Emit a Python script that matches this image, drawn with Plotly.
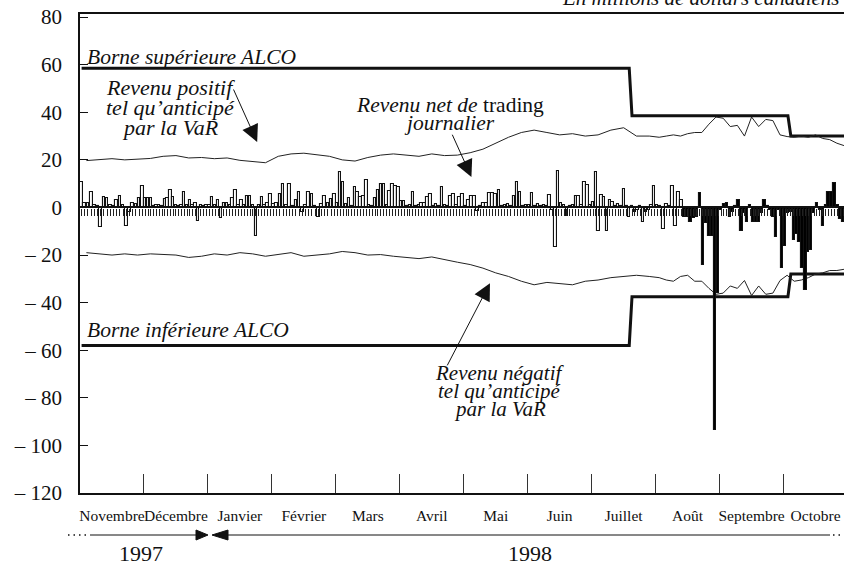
import plotly.graph_objects as go

# ---------------------------------------------------------------------------
# Data (millions de dollars canadiens)
# ---------------------------------------------------------------------------
months = ["Novembre", "Décembre", "Janvier", "Février", "Mars", "Avril",
          "Mai", "Juin", "Juillet", "Août", "Septembre", "Octobre"]

# Revenu net de trading journalier, un chiffre par jour ouvrable
rev_nov = [10.5, 2, 2, 6.3, 1, 0.5, -8.4, 4.2, 4, 1, 0.5, 3, 5, 1, -8, -2, 2, 1.5, 4, 9]
rev_dec = [4, 4, 4, 0.5, 1, 1, 0.5, 3.5, 4, 7.3, 4.5, 1, 0.5, 1, 6.3, 1, 3, 1, 2, -5.6, 1, 0.5, 1]
rev_jan = [1, 4.5, 1, 3, -4.5, 2, 2, 1, 4, 7.3, 1, 3, 1, 5, 5, 1, -12, 1, 4.5, 1, 2, 5.6]
rev_feb = [1.5, 2, 5.6, 9.8, 1, 9.8, 0.5, 3, 6.3, -2, 1, 6.3, 5.6, 0.7, -4, 1.4, 5, 2, 3.5, 5.6]
rev_mar = [2, 14.7, 10.5, 1.4, 4, 0.5, 8.7, 6.3, 4.5, 5, 11.5, 1, 0.5, 4, 7.3, 9.8, 9.8, 1, 7, 9.8, 9.1, 8.4]
rev_apr = [2.8, 2.8, 0.5, 1, 6.3, 0.5, 1, 2, 2, 4.2, 5.6, 0.5, 1.4, 0.5, 8.7, 1, 0.5, 5, 5.6, 1, 4.2, 5.6]
rev_may = [0.5, 3, 4.8, 4.8, -1.5, 0.5, 1.7, 1.7, 6.2, 6, 5.6, 7.3, 0.5, 1, 1.4, 0.5, 4.8, 10.8, 6.6, 0.5, 1]
rev_jun = [1, 6, 0.5, 1.4, 0.5, 1, 0.5, 5.2, -1, -16.5, 15.5, 2, 1, -3.6, 0.5, 1, 4.8, 4.8, 1, 10.8, 9.4, 1]
rev_jul = [2.4, 15, -10, 5.2, 4.2, -10, 3, 2.4, 0.5, 1.4, 0.5, 7.6, 0.5, -4, 0.5, -2, -1, 0.5, -6, -2, -1, 1, 9]
rev_aug = [1, 0.5, -9, 1.5, 0.5, 9, -8, 6.6, 3, -4, -4, -6, -4.6, -4, 5.9, -24, -6.7, -12, -12, -93.5, -36]
rev_sep = [-1, 1.5, 1.7, -4, -2, 0.5, 3, -10, -2.5, -6, 1, -6, -6, -6, -2.5, 3, 0.5, -1, -4, -12.6, -1, -25.6]
rev_oct = [-16, -2.5, -2, -13.7, -11, -14.4, -25.6, -34.7, -18.6, -18, -2.5, 1.7, -1, -8, 1, 6.6, 6.6, 10.4, 1, -5, -6, -3]

revenue_by_month = [rev_nov, rev_dec, rev_jan, rev_feb, rev_mar, rev_apr,
                    rev_may, rev_jun, rev_jul, rev_aug, rev_sep, rev_oct]

# Revenu positif / négatif tel qu'anticipé par la VaR (relevés hebdomadaires)
var_pos_by_month = [
    [19.7, 20.2, 20.5, 20.0, 20.3],
    [20.6, 21.5, 21.8, 20.8, 21.0],
    [20.5, 20.8, 19.8, 19.2, 18.8],
    [21.5, 22.5, 22.8, 22.0, 21.5],
    [20.0, 19.5, 21.0, 22.0, 22.5],
    [22.0, 21.5, 22.5, 21.8, 22.0],
    [23.0, 24.5, 27.0, 29.5, 31.5],
    [32.5, 31.5, 30.5, 31.0, 30.0],
    [30.5, 32.5, 33.5, 30.0, 30.0],
    [29.5, 30.0, 30.5, 30.0, 31.0, 31.5, 31.5, 35.0, 38.0],
    [37.5, 34.0, 34.5, 30.0, 38.0, 34.0, 37.0, 36.5, 30.5],
    [29.8, 29.5, 30.0, 29.5, 30.5, 29.0, 28.5, 27.0, 26.0],
]
var_neg_by_month = [
    [-19.0, -19.5, -20.0, -19.5, -20.0],
    [-19.5, -19.8, -20.0, -21.0, -20.5],
    [-19.5, -20.0, -19.0, -19.5, -20.5],
    [-19.8, -19.0, -20.5, -20.0, -19.5],
    [-18.5, -19.0, -20.0, -19.8, -20.5],
    [-21.0, -21.5, -20.8, -22.0, -23.0],
    [-24.0, -25.5, -27.5, -29.0, -31.0],
    [-32.5, -31.5, -32.0, -32.5, -31.0],
    [-30.5, -29.5, -29.0, -28.5, -29.0],
    [-29.5, -30.5, -31.0, -29.0, -28.5, -31.0, -31.0, -34.0, -36.5],
    [-36.0, -33.0, -34.0, -30.7, -37.0, -33.0, -36.5, -36.0, -30.7],
    [-28.5, -31.0, -30.5, -29.5, -28.0, -27.5, -26.5, -26.5, -26.0],
]

# Bornes ALCO : niveaux successifs et premier jour ouvrable (mois, jour) d'effet
alco_upper_levels = [58.5, 38.5, 30.0]
alco_lower_levels = [-58.0, -37.5, -28.0]
alco_effective = [(0, 0), (8, 14), (11, 2)]

# Jour ouvrable à partir duquel les barres sont pleines
dark_from = (9, 9)

y_ticks = [-120, -100, -80, -60, -40, -20, 0, 20, 40, 60, 80]
y_range = [-120, 81.3]
x_range = [0, 11.945]
years = ["1997", "1998"]

# ---------------------------------------------------------------------------
# Helpers: each month occupies one unit on the x axis
# ---------------------------------------------------------------------------
def spread(by_month):
    xs, ys, keys = [], [], []
    for m, vals in enumerate(by_month):
        n = len(vals)
        for j, v in enumerate(vals):
            xs.append(m + (j + 0.5) / n)
            ys.append(v)
            keys.append((m, j))
    return xs, ys, keys

day_x, day_rev, day_keys = spread(revenue_by_month)
bar_w = [0.82 / len(revenue_by_month[m]) for (m, j) in day_keys]
bar_fill = ["black" if k >= dark_from else "white" for k in day_keys]

def level_on(key, levels):
    lvl = levels[0]
    for start, value in zip(alco_effective, levels):
        if key >= start:
            lvl = value
    return lvl

alco_up = [level_on(k, alco_upper_levels) for k in day_keys]
alco_dn = [level_on(k, alco_lower_levels) for k in day_keys]

vp_x, vp_y, _ = spread(var_pos_by_month)
vn_x, vn_y, _ = spread(var_neg_by_month)

FONT = "Liberation Serif"
BLACK = "#111111"

fig = go.Figure()

# Bornes ALCO
for ys in (alco_up, alco_dn):
    fig.add_trace(go.Scatter(x=day_x, y=ys, mode="lines",
                             line=dict(color=BLACK, width=3),
                             hoverinfo="skip", showlegend=False))

# VaR
for xs, ys in ((vp_x, vp_y), (vn_x, vn_y)):
    fig.add_trace(go.Scatter(x=xs, y=ys, mode="lines",
                             line=dict(color="#222222", width=1),
                             hoverinfo="skip", showlegend=False))

# Revenu net de trading journalier (barres sur l'axe des jours)
fig.add_trace(go.Bar(x=day_x, y=day_rev, width=bar_w, xaxis="x3",
                     marker=dict(color=bar_fill, line=dict(color=BLACK, width=1.1)),
                     hoverinfo="skip", showlegend=False))

zero_pos = (0 - y_range[0]) / (y_range[1] - y_range[0])

def ylabel(v):
    return "– " + str(abs(v)) if v < 0 else str(v)

fig.update_layout(
    width=844, height=565,
    margin=dict(l=80, r=0, t=14, b=72),
    plot_bgcolor="white", paper_bgcolor="white",
    font=dict(family=FONT, color=BLACK),
    bargap=0,
    xaxis=dict(
        range=x_range, showgrid=False, zeroline=False,
        showline=True, linecolor=BLACK, linewidth=1.5, mirror=True,
        tickmode="array", tickvals=[m + 0.5 for m in range(len(months))],
        ticktext=months, ticks="", tickangle=0, ticklabelstandoff=8,
        tickfont=dict(family=FONT, size=15.5, color=BLACK),
        minor=dict(tickmode="array", tickvals=list(range(1, len(months))),
                   ticks="inside", ticklen=19, tickwidth=1, tickcolor="#333333",
                   showgrid=False),
    ),
    xaxis3=dict(
        overlaying="x", matches="x", range=x_range, anchor="free",
        position=zero_pos, side="bottom",
        showgrid=False, zeroline=False,
        showline=True, linecolor=BLACK, linewidth=1.2,
        tickmode="array", tickvals=day_x, ticks="outside", ticklen=7,
        tickwidth=1, tickcolor="#222222", showticklabels=False,
    ),
    yaxis=dict(
        range=y_range, showgrid=False, zeroline=False,
        showline=True, linecolor=BLACK, linewidth=1.5,
        tickmode="array", tickvals=y_ticks,
        ticktext=[ylabel(v) for v in y_ticks],
        ticks="inside", ticklen=8, tickwidth=1, tickcolor=BLACK,
        ticklabelstandoff=12,
        tickfont=dict(family=FONT, size=21, color=BLACK),
    ),
)

# Libellés en italique dans le graphique
def label(text, x, y, anchor="center", size=21):
    fig.add_annotation(x=x, y=y, xref="x", yref="y", text=text, showarrow=False,
                       xanchor=anchor, yanchor="middle", borderpad=0,
                       font=dict(family=FONT, size=size, color=BLACK))

label("<i>Borne supérieure ALCO</i>", 0.1, 63.2, "left", size=21.5)
label("<i>Borne inférieure ALCO</i>", 0.1, -51.5, "left", size=21.5)
label("<i>Revenu positif</i>", 1.41, 50.4, size=22)
label("<i>tel qu’anticipé</i>", 1.41, 42.0, size=22)
label("<i>par la VaR</i>", 1.41, 33.6, size=22)
label("<i>Revenu net de</i> trading", 5.78, 43.2, size=21.5)
label("<i>journalier</i>", 5.78, 35.4, size=21.5)
label("<i>Revenu négatif</i>", 6.56, -69.6, size=21)
label("<i>tel qu’anticipé</i>", 6.56, -77.2, size=21)
label("<i>par la VaR</i>", 6.56, -84.8, size=21)

# Flèches de renvoi
for (hx, hy, tx, ty) in [(2.77, 27.5, 2.39, 50.2),
                         (6.12, 12.8, 5.81, 31.2),
                         (6.41, -31.8, 5.73, -67.0)]:
    fig.add_annotation(x=hx, y=hy, ax=tx, ay=ty, xref="x", yref="y",
                       axref="x", ayref="y", text="", showarrow=True,
                       arrowhead=2, arrowsize=3.4, arrowwidth=1,
                       arrowcolor=BLACK)

# Unité
fig.add_annotation(x=0.997, y=1.004, xref="paper", yref="paper",
                   text="<i>En millions de dollars canadiens</i>",
                   showarrow=False, xanchor="right", yanchor="bottom",
                   font=dict(family=FONT, size=21, color=BLACK))

# Frise des années sous l'axe
def px_x(p):
    return (p - 80) / 764.0

def px_y(p):
    return (493 - p) / 479.0

yl = px_y(535)
h = 5 / 479.0
shapes = [
    dict(type="line", xref="paper", yref="paper", x0=px_x(90), x1=px_x(197),
         y0=yl, y1=yl, line=dict(color=BLACK, width=1)),
    dict(type="line", xref="paper", yref="paper", x0=px_x(227), x1=px_x(830),
         y0=yl, y1=yl, line=dict(color=BLACK, width=1)),
    dict(type="path", xref="paper", yref="paper", fillcolor=BLACK,
         line=dict(color=BLACK, width=1),
         path=f"M {px_x(196)},{yl + h} L {px_x(208)},{yl} L {px_x(196)},{yl - h} Z"),
    dict(type="path", xref="paper", yref="paper", fillcolor=BLACK,
         line=dict(color=BLACK, width=1),
         path=f"M {px_x(228)},{yl + h} L {px_x(212)},{yl} L {px_x(228)},{yl - h} Z"),
    dict(type="line", xref="paper", yref="paper", x0=px_x(68), x1=px_x(86),
         y0=yl, y1=yl, line=dict(color=BLACK, width=1.5, dash="1.5px,4px")),
    dict(type="line", xref="paper", yref="paper", x0=px_x(833), x1=px_x(846),
         y0=yl, y1=yl, line=dict(color=BLACK, width=1.5, dash="1.5px,4px")),
]
fig.update_layout(shapes=shapes)

for text, cx in zip(years, (141, 530)):
    fig.add_annotation(x=px_x(cx), y=px_y(553), xref="paper", yref="paper",
                       text=text, showarrow=False, xanchor="center",
                       yanchor="middle", borderpad=0,
                       font=dict(family=FONT, size=22, color=BLACK))

fig.write_html("out.html")
